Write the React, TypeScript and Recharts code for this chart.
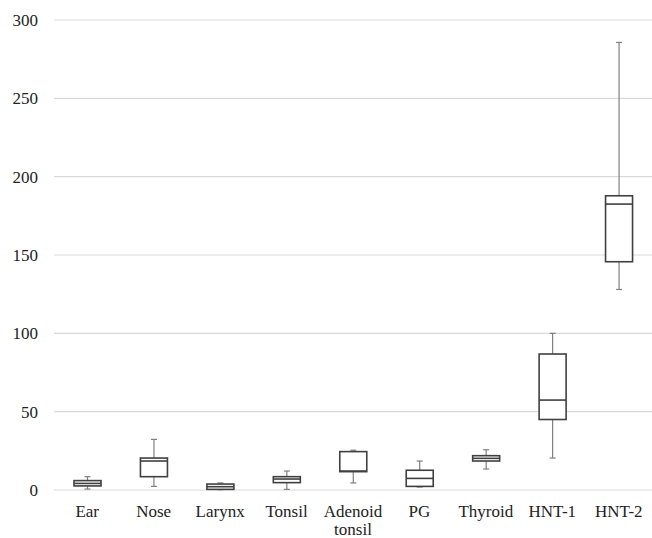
import React from 'react';
import { ComposedChart, Bar, XAxis, YAxis, CartesianGrid } from 'recharts';

const categories = ['Ear', 'Nose', 'Larynx', 'Tonsil', 'Adenoid tonsil', 'PG', 'Thyroid', 'HNT-1', 'HNT-2'];
const minVals = [0.6, 2.3, 0.2, 0.4, 4.5, 1.9, 13.4, 20.4, 128];
const q1Vals = [2.6, 8.5, 0.4, 4.7, 11.7, 2.3, 18.5, 45, 145.7];
const medianVals = [4.2, 18.5, 2.1, 7, 12.1, 7.4, 20.2, 57.4, 182.5];
const q3Vals = [6, 20.4, 3.8, 8.5, 24.5, 12.6, 21.9, 86.8, 187.8];
const maxVals = [8.5, 32.3, 4.5, 12.1, 25.4, 18.5, 25.7, 100, 285.7];
const yTicks = [0, 50, 100, 150, 200, 250, 300];

const data = categories.map((name, i) => ({
    name,
    min: minVals[i],
    q1: q1Vals[i],
    median: medianVals[i],
    q3: q3Vals[i],
    max: maxVals[i],
}));

const FONT = '"Liberation Serif", "Times New Roman", serif';

// the bar spans min..max, so any value maps linearly inside its rect
const BoxShape = (props: any) => {
    const { x, y, width, height, payload } = props;
    const top = Math.min(y, y + height);
    const bottom = Math.max(y, y + height);
    const span = payload.max - payload.min || 1;
    const py = (v: number) => bottom - ((v - payload.min) / span) * (bottom - top);
    const cx = x + width / 2;
    const cap = 3;
    return (
        <g>
            <line x1={cx} x2={cx} y1={py(payload.max)} y2={py(payload.q3)} stroke="#808080" strokeWidth={1.2} />
            <line x1={cx} x2={cx} y1={py(payload.q1)} y2={py(payload.min)} stroke="#808080" strokeWidth={1.2} />
            <line x1={cx - cap} x2={cx + cap} y1={py(payload.max)} y2={py(payload.max)} stroke="#808080" strokeWidth={1.2} />
            <line x1={cx - cap} x2={cx + cap} y1={py(payload.min)} y2={py(payload.min)} stroke="#808080" strokeWidth={1.2} />
            <rect
                x={x}
                y={py(payload.q3)}
                width={width}
                height={Math.max(py(payload.q1) - py(payload.q3), 1)}
                fill="#fff"
                stroke="#404040"
                strokeWidth={1.6}
            />
            <line x1={x} x2={x + width} y1={py(payload.median)} y2={py(payload.median)} stroke="#404040" strokeWidth={1.6} />
        </g>
    );
};

const XTick = (props: any) => {
    const { x, y, payload } = props;
    const parts = String(payload.value).split(' ');
    return (
        <text x={x} y={y} textAnchor="middle" fill="#222" fontSize={17} fontFamily={FONT}>
            {parts.map((p, i) => (
                <tspan key={i} x={x} dy={i === 0 ? '0.71em' : 18}>{p}</tspan>
            ))}
        </text>
    );
};

export default function App() {
    return (
        <div style={{ position: 'absolute', left: 0, top: 0, width: 652, height: 538, background: '#fff' }}>
            <ComposedChart
                width={652}
                height={538}
                data={data}
                margin={{ top: 20, right: 0, bottom: 0, left: 0 }}
            >
                <CartesianGrid vertical={false} stroke="#d9d9d9" strokeWidth={1.2} />
                <XAxis
                    dataKey="name"
                    axisLine={false}
                    tickLine={false}
                    height={48}
                    tickMargin={9}
                    interval={0}
                    tick={<XTick />}
                />
                <YAxis
                    domain={[0, 300]}
                    ticks={yTicks}
                    axisLine={false}
                    tickLine={false}
                    width={54}
                    tickMargin={10}
                    tick={{ fill: '#222', fontSize: 17, fontFamily: FONT }}
                />
                <Bar
                    dataKey={(d: any) => [d.min, d.max]}
                    barSize={27}
                    shape={<BoxShape />}
                    isAnimationActive={false}
                />
            </ComposedChart>
        </div>
    );
}
